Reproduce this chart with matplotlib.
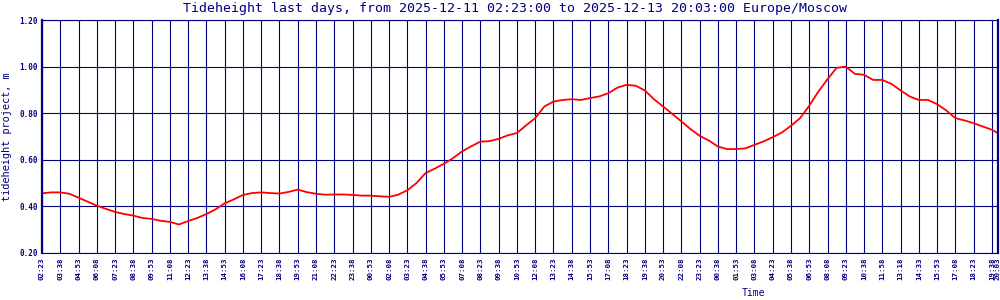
import matplotlib

matplotlib.use("Agg")
import matplotlib.pyplot as plt
import numpy as np

# Tide height sampled every half grid step (37.5 min), last sample at the end time
heights = [
    0.456, 0.460, 0.460, 0.454, 0.437, 0.420, 0.403, 0.389, 0.376, 0.367,
    0.360, 0.350, 0.346, 0.338, 0.333, 0.322, 0.337, 0.350, 0.367, 0.387,
    0.413, 0.430, 0.449, 0.457, 0.460, 0.457, 0.455, 0.462, 0.472, 0.461,
    0.454, 0.450, 0.451, 0.451, 0.449, 0.446, 0.446, 0.443, 0.441, 0.450,
    0.469, 0.500, 0.543, 0.562, 0.583, 0.607, 0.636, 0.658, 0.678, 0.680,
    0.690, 0.705, 0.715, 0.748, 0.779, 0.829, 0.850, 0.857, 0.860, 0.857,
    0.865, 0.872, 0.886, 0.910, 0.922, 0.918, 0.898, 0.860, 0.829, 0.797,
    0.765, 0.732, 0.703, 0.683, 0.657, 0.646, 0.646, 0.649, 0.664, 0.679,
    0.697, 0.717, 0.746, 0.779, 0.832, 0.893, 0.946, 0.995, 1.000, 0.969,
    0.965, 0.943, 0.943, 0.926, 0.898, 0.872, 0.857, 0.857, 0.839, 0.812,
    0.779, 0.769, 0.757, 0.743, 0.729,
]
last_height = 0.714

time_labels = [
    "02:23", "03:38", "04:53", "06:08", "07:23", "08:38", "09:53", "11:08",
    "12:23", "13:38", "14:53", "16:08", "17:23", "18:38", "19:53", "21:08",
    "22:23", "23:38", "00:53", "02:08", "03:23", "04:38", "05:53", "07:08",
    "08:23", "09:38", "10:53", "12:08", "13:23", "14:38", "15:53", "17:08",
    "18:23", "19:38", "20:53", "22:08", "23:23", "00:38", "01:53", "03:08",
    "04:23", "05:38", "06:53", "08:08", "09:23", "10:38", "11:58", "13:18",
    "14:33", "15:53", "17:08", "18:23", "19:38",
]
end_label = "20:03"
y_ticks = [0.20, 0.40, 0.60, 0.80, 1.00, 1.20]

NAVY = "#000080"
MONO = "DejaVu Sans Mono"

step_minutes = 75
sample_minutes = 37.5
end_minutes = (len(time_labels) - 1) * step_minutes + 25

x = list(np.arange(len(heights)) * sample_minutes) + [end_minutes]
y = heights + [last_height]

fig = plt.figure(figsize=(10, 3), dpi=100)
ax = fig.add_axes([0.042, 0.157, 0.956, 0.776])

ax.plot(x, y, color="#ff0000", linewidth=1.3)

ticks = [i * step_minutes for i in range(len(time_labels))] + [end_minutes]
ax.set_xticks(ticks)
ax.set_xticklabels(time_labels + [end_label], rotation=90, family=MONO,
                   fontsize=5.3, fontweight="bold", color=NAVY)
ax.set_yticks(y_ticks)
ax.set_yticklabels([f"{v:.2f}" for v in y_ticks], family=MONO,
                   fontsize=5.5, fontweight="bold", color=NAVY)
ax.set_xlim(0, end_minutes)
ax.set_ylim(0.2, 1.2)
ax.tick_params(length=0, pad=3)

ax.grid(True, color=NAVY, linewidth=0.8)
ax.set_axisbelow(True)
for side in ["left", "right"]:
    ax.spines[side].set_color(NAVY)
    ax.spines[side].set_linewidth(1.6)
for side in ["top", "bottom"]:
    ax.spines[side].set_color(NAVY)
    ax.spines[side].set_linewidth(0.8)

ax.set_ylabel("tideheight project, m", family=MONO, fontsize=7.4, color=NAVY)
ax.yaxis.set_label_coords(-0.031, 0.5)

fig.text(0.515, 0.972, "Tideheight last days, from 2025-12-11 02:23:00 to "
         "2025-12-13 20:03:00 Europe/Moscow", family=MONO, fontsize=9.5,
         color=NAVY, ha="center", va="center")
fig.text(0.753, 0.022, "Time", family=MONO, fontsize=7, color=NAVY,
         ha="center", va="center")

fig.savefig("out.png", dpi=100)
